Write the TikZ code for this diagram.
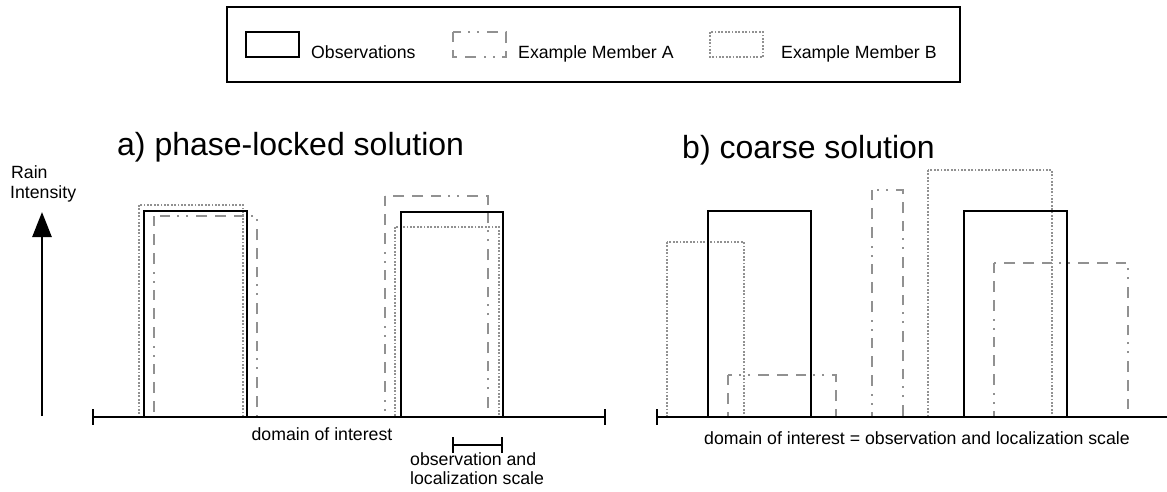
\documentclass[tikz,border=0pt]{standalone}
\usepackage{fontspec}
\setmainfont{Liberation Sans}
\usetikzlibrary{arrows.meta}
\definecolor{mgray}{RGB}{145,145,145}
\begin{document}
\begin{tikzpicture}[x=1pt,y=-1pt,
  obs/.style={line width=2.7pt},
  memA/.style={draw=mgray,line width=2.5pt,dash pattern=on 10pt off 8pt on 11pt off 8pt on 11pt off 8pt on 2pt off 7pt on 2pt off 7pt},
  memB/.style={draw=mgray,line width=2.4pt,dash pattern=on 1.8pt off 1.6pt},
  axisline/.style={line width=2.7pt},
  lbl/.style={inner sep=0pt,font=\fontsize{17.7}{20}\selectfont},
  ttl/.style={inner sep=0pt,font=\fontsize{32}{36}\selectfont}]
\useasboundingbox (0,0) rectangle (1167,491);
% legend
\draw[line width=1.3pt] (227,7) rectangle (960,82);
\draw[obs] (246,32) rectangle (299,57);
\node[lbl,anchor=base west] (lo) at (311,58) {Observations};
\draw[memA] (453,32) rectangle (506,57);
\node[lbl,anchor=base west] (la) at (518,58) {Example Member A};
\draw[memB] (710,32) rectangle (763,57);
\node[lbl,anchor=base west] (lb) at (781,58) {Example Member B};
% titles
\node[ttl,anchor=base west] (ta) at (117,155) {a) phase-locked solution};
\node[ttl,anchor=base west] (tb) at (682,158) {b) coarse solution};
% y axis
\node[lbl,anchor=base west] (rain) at (11,178) {Rain};
\node[lbl,anchor=base west] (inten) at (10,198) {Intensity};
\coordinate (ybot) at (42,416);
\coordinate (ytop) at (42,212);
\draw[axisline,-{Triangle[length=25pt,width=19pt]}] (ybot) -- (ytop);
% panel a
\draw[memB] (139,205) rectangle (243,417);
\draw[memA] (154,216) rectangle (257,417);
\draw[obs] (144,211) rectangle (247,417);
\draw[memA] (385,196) rectangle (488,417);
\draw[memB] (395,227) rectangle (499,417);
\draw[obs] (401,212) rectangle (503,417);
\coordinate (aL) at (93,417);
\coordinate (aR) at (605,417);
\draw[axisline] (aL) -- (aR);
\draw[axisline] (93,409) -- (93,425);
\draw[axisline] (605,409) -- (605,425);
\node[lbl,anchor=base] (doma) at (322,440) {domain of interest};
\coordinate (sL) at (453,445);
\coordinate (sR) at (502,445);
\draw[axisline] (sL) -- (sR);
\draw[axisline] (453,437) -- (453,453);
\draw[axisline] (502,437) -- (502,453);
\node[lbl,anchor=base west] (obsa) at (410,465) {observation and};
\node[lbl,anchor=base west] (loca) at (410,484) {localization scale};
% panel b
\draw[memB] (667,242) rectangle (744,417);
\draw[memA] (728,375) rectangle (836,417);
\draw[memA] (872,190) rectangle (903,417);
\draw[memB] (928,170) rectangle (1052,417);
\draw[memA] (994,263) rectangle (1128,417);
\draw[obs] (708,211) rectangle (811,417);
\draw[obs] (964,211) rectangle (1067,417);
\coordinate (bL) at (657,417);
\coordinate (bR) at (1167,417);
\draw[axisline] (bL) -- (bR);
\draw[axisline] (657,409) -- (657,425);
\node[lbl,anchor=base] (domb) at (917,444) {domain of interest = observation and localization scale};
\end{tikzpicture}
\end{document}
